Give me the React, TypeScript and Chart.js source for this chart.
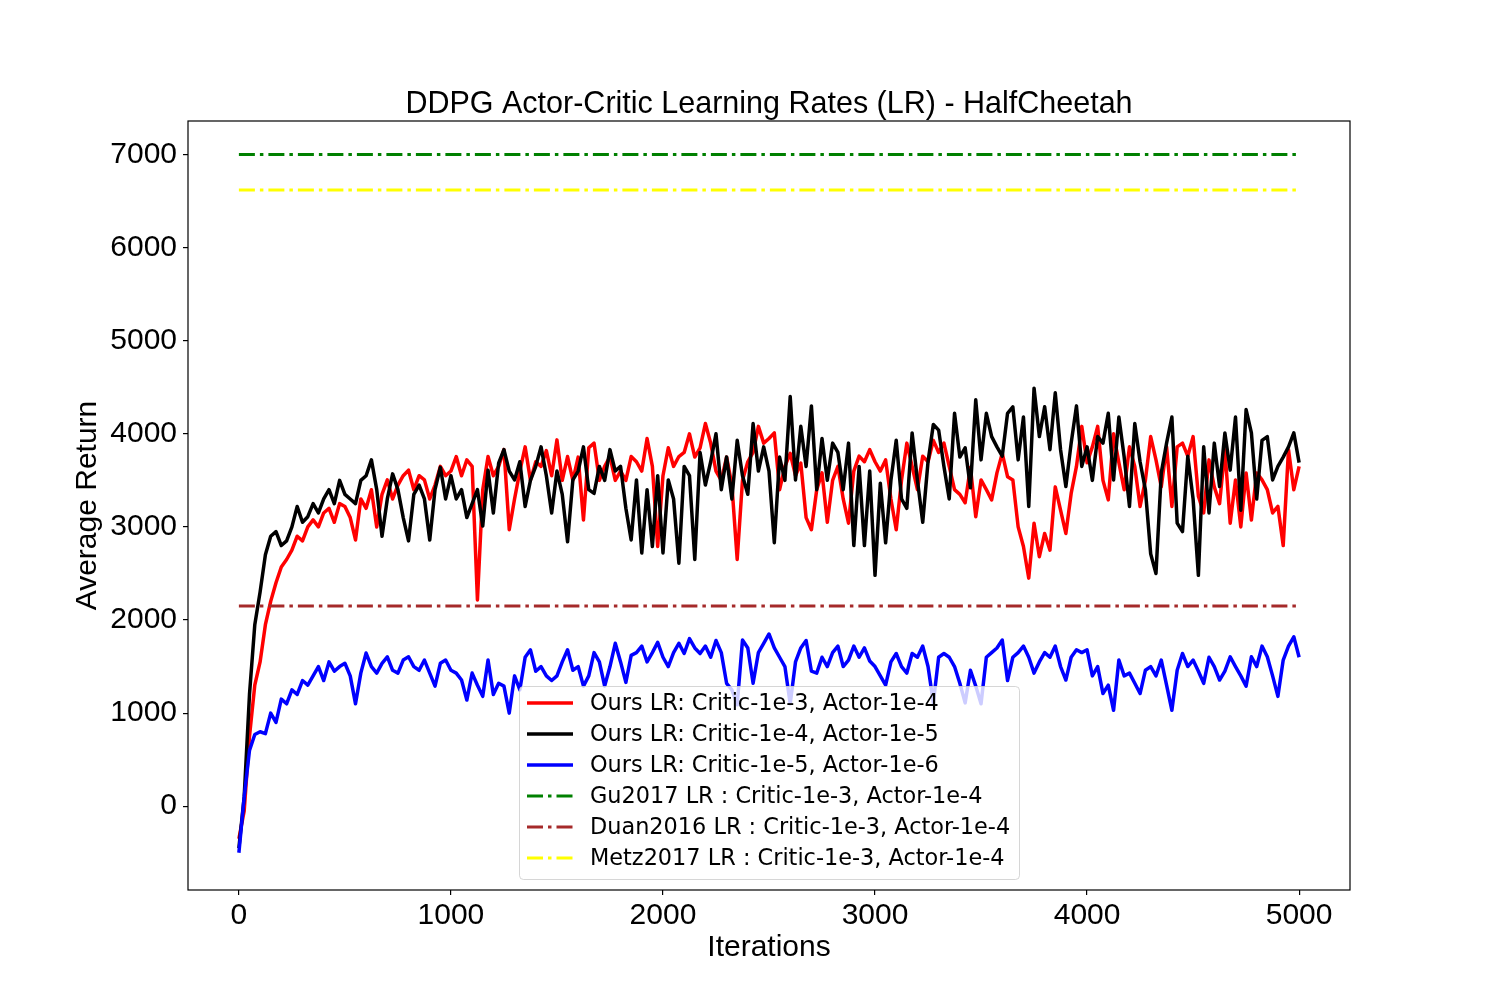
import React, { useEffect, useRef } from "react";
import { Chart, registerables } from "chart.js";

Chart.register(...registerables);

// iteration spacing between samples
const STEP = 25;

const RED = [
  -350, -50, 750, 1300, 1550, 1950, 2200, 2400, 2570, 2650, 2750, 2900, 2850, 3000, 3075, 3000, 3150, 3200, 3050, 3250,
  3220, 3100, 2860, 3300, 3200, 3400, 3000, 3350, 3505, 3300, 3450, 3550, 3610, 3400, 3550, 3505, 3300, 3450, 3650, 3550,
  3600, 3756, 3550, 3720, 3650, 2215, 3400, 3756, 3550, 3650, 3830, 2970, 3300, 3600, 3860, 3500, 3700, 3650, 3820, 3550,
  3935, 3500, 3756, 3500, 3750, 3075, 3850, 3900, 3500, 3650, 3756, 3500, 3600, 3500, 3756, 3700, 3600, 3950, 3650, 2790,
  3550, 3850, 3650, 3756, 3800, 4000, 3750, 3850, 4110, 3900, 3600, 3500, 3750, 3450, 2650, 3500, 3700, 3800, 4080, 3900,
  3950, 4010, 3400, 3650, 3790, 3550, 3685, 3100, 2970, 3400, 3580, 3050, 3500, 3650, 3300, 3040, 3600, 3760, 3700, 3830,
  3700, 3600, 3720, 3300, 2970, 3500, 3900, 3650, 3400, 3760, 3700, 3930, 3800, 3900, 3650, 3400, 3350, 3260, 3640, 3110,
  3505, 3400, 3290, 3580, 3790, 3540, 3505, 3000, 2790, 2450, 3040, 2680, 2930, 2750, 3430, 3180, 2930, 3360, 3650, 4080,
  3690, 3860, 4080, 3500, 3290, 4000, 3690, 3400, 3860, 3650, 3220, 3500, 3970, 3720, 3430, 3860, 3220, 3860, 3900, 3760,
  3970, 3330, 3150, 3720, 3430, 3250, 3830, 3040, 3505, 3000, 3580, 3075, 3580, 3505, 3400, 3150, 3220, 2800, 3830, 3400,
  3650,
];

const BLACK = [
  -450, 100, 1200, 1950, 2300, 2700, 2900, 2950, 2800, 2850, 3000, 3220, 3050, 3110, 3250, 3150, 3300, 3400, 3250, 3500,
  3350, 3300, 3250, 3500, 3550, 3720, 3400, 2900, 3300, 3570, 3400, 3100, 2850, 3350, 3450, 3300, 2860, 3400, 3640, 3300,
  3550, 3300, 3400, 3100, 3250, 3400, 3010, 3610, 3150, 3685, 3830, 3600, 3505, 3700, 3220, 3500, 3650, 3860, 3550, 3150,
  3600, 3350, 2840, 3505, 3600, 3860, 3400, 3360, 3650, 3500, 3830, 3600, 3650, 3200, 2860, 3505, 2720, 3400, 2790, 3550,
  2720, 3505, 3300, 2610, 3650, 3550, 2650, 3800, 3450, 3700, 4000, 3400, 3750, 3300, 3930, 3550, 3350, 4110, 3600, 3860,
  3600, 2830, 3750, 3500, 4400, 3505, 4080, 3650, 4300, 3400, 3950, 3500, 3900, 3800, 3400, 3900, 2800, 3650, 2800, 3600,
  2480, 3470, 2830, 3500, 3930, 3300, 3200, 4010, 3500, 3050, 3700, 4100, 4040, 3650, 3300, 4220, 3750, 3850, 3420, 4365,
  3720, 4220, 3970, 3860, 3760, 4220, 4290, 3720, 4180, 3220, 4490, 3970, 4290, 3830, 4440, 3830, 3435, 3900, 4300, 3650,
  3860, 3500, 3970, 3900, 4220, 3505, 4180, 3750, 3220, 4110, 3700, 3400, 2710, 2500, 3580, 3900, 4180, 3040, 2950, 3760,
  3300, 2480, 3860, 3150, 3900, 3435, 4010, 3610, 4180, 3180, 4260, 4010, 3300, 3930, 3970, 3505, 3650, 3750, 3860, 4010,
  3690,
];

const BLUE = [
  -500, 100, 600, 770, 800, 780, 1000, 900, 1150, 1100, 1250, 1200, 1350, 1300, 1400, 1500, 1350, 1550, 1450, 1500,
  1535, 1400, 1100, 1430, 1645, 1500, 1430, 1535, 1605, 1460, 1430, 1570, 1605, 1500, 1460, 1570, 1430, 1290, 1535, 1570,
  1460, 1430, 1355, 1140, 1430, 1300, 1180, 1570, 1200, 1320, 1290, 1000, 1400, 1250, 1600, 1680, 1450, 1500, 1400, 1350,
  1400, 1550, 1680, 1460, 1500, 1290, 1400, 1650, 1550, 1290, 1500, 1750, 1550, 1330, 1620, 1650, 1720, 1550, 1650, 1760,
  1600, 1500, 1650, 1750, 1640, 1800, 1700, 1640, 1720, 1600, 1780, 1650, 1320, 1250, 1090, 1785, 1700, 1320, 1650, 1750,
  1850, 1700, 1600, 1500, 1100, 1550, 1700, 1780, 1450, 1430, 1600, 1500, 1650, 1720, 1500, 1570, 1720, 1600, 1700, 1560,
  1500, 1400, 1300, 1550, 1640, 1500, 1430, 1640, 1600, 1720, 1500, 1110, 1600, 1640, 1600, 1500, 1320, 1110, 1460, 1290,
  1100, 1600, 1650, 1700, 1785, 1350, 1600, 1650, 1720, 1600, 1430, 1550, 1650, 1600, 1720, 1500, 1355, 1600, 1680, 1650,
  1680, 1400, 1500, 1210, 1300, 1030, 1570, 1400, 1430, 1320, 1210, 1460, 1500, 1400, 1570, 1300, 1030, 1460, 1640, 1500,
  1570, 1450, 1320, 1600, 1500, 1355, 1450, 1605, 1500, 1400, 1290, 1605, 1500, 1720, 1605, 1400, 1180, 1570, 1720, 1820,
  1600,
];

// reference baselines (constant over the run)
const BASE_X = [0, 5000];
const GU2017 = 7000;
const DUAN2016 = 2150;
const METZ2017 = 6620;

const X_TICKS = [0, 1000, 2000, 3000, 4000, 5000];
const Y_TICKS = [0, 1000, 2000, 3000, 4000, 5000, 6000, 7000];

const LABELS = [
  "Ours LR: Critic-1e-3, Actor-1e-4",
  "Ours LR: Critic-1e-4, Actor-1e-5",
  "Ours LR: Critic-1e-5, Actor-1e-6",
  "Gu2017 LR : Critic-1e-3, Actor-1e-4",
  "Duan2016 LR : Critic-1e-3, Actor-1e-4",
  "Metz2017 LR : Critic-1e-3, Actor-1e-4",
];
const COLORS = ["#ff0000", "#000000", "#0000ff", "#008000", "#a52a2a", "#ffff00"];
const DASHDOT = [16, 5, 3.5, 5];

const FONT = "'Liberation Sans', Arial, sans-serif";
const LEGEND_FONT = "'DejaVu Sans', sans-serif";

const toPoints = (vals: number[]) => vals.map((y, i) => ({ x: i * STEP, y }));
const flat = (y: number) => BASE_X.map((x) => ({ x, y }));

const decor = {
  id: "decor",
  afterDraw(chart: Chart) {
    const { ctx, chartArea: a } = chart;
    ctx.save();

    // axes frame
    ctx.strokeStyle = "#000";
    ctx.lineWidth = 1.2;
    ctx.strokeRect(a.left, a.top, a.right - a.left, a.bottom - a.top);

    // titles
    ctx.fillStyle = "#000";
    ctx.font = `30.5px ${FONT}`;
    ctx.textAlign = "center";
    ctx.textBaseline = "alphabetic";
    ctx.fillText("DDPG Actor-Critic Learning Rates (LR) - HalfCheetah", (a.left + a.right) / 2, 113);
    ctx.font = `30px ${FONT}`;
    ctx.fillText("Iterations", (a.left + a.right) / 2, 956);
    ctx.save();
    ctx.translate(96, (a.top + a.bottom) / 2);
    ctx.rotate(-Math.PI / 2);
    ctx.fillText("Average Return", 0, 0);
    ctx.restore();

    // legend
    const lx = 519, ly = 686, lw = 500, lh = 193;
    ctx.beginPath();
    ctx.roundRect(lx + 0.5, ly + 0.5, lw, lh, 4);
    ctx.fillStyle = "rgba(255,255,255,0.8)";
    ctx.fill();
    ctx.strokeStyle = "rgba(204,204,204,0.8)";
    ctx.lineWidth = 1;
    ctx.stroke();

    ctx.font = `22.4px ${LEGEND_FONT}`;
    ctx.textAlign = "left";
    ctx.textBaseline = "middle";
    LABELS.forEach((label, i) => {
      const y = 703 + i * 31;
      ctx.beginPath();
      ctx.strokeStyle = COLORS[i];
      ctx.lineWidth = i < 3 ? 3.5 : 3;
      ctx.setLineDash(i < 3 ? [] : DASHDOT);
      ctx.moveTo(527, y);
      ctx.lineTo(573, y);
      ctx.stroke();
      ctx.setLineDash([]);
      ctx.fillStyle = "#000";
      ctx.fillText(label, 590, y + 1);
    });

    ctx.restore();
  },
};

const App: React.FC = () => {
  const canvasRef = useRef<HTMLCanvasElement>(null);
  const chartRef = useRef<Chart>();

  useEffect(() => {
    document.body.style.margin = "0";
    const ctx = canvasRef.current?.getContext("2d");
    if (!ctx) return;

    const solid = (i: number, vals: number[], order: number) => ({
      label: LABELS[i],
      data: toPoints(vals),
      borderColor: COLORS[i],
      backgroundColor: COLORS[i],
      borderWidth: 3.5,
      pointRadius: 0,
      borderJoinStyle: "round" as const,
      order,
    });
    const dashed = (i: number, y: number, order: number) => ({
      label: LABELS[i],
      data: flat(y),
      borderColor: COLORS[i],
      backgroundColor: COLORS[i],
      borderWidth: 3,
      borderDash: DASHDOT,
      pointRadius: 0,
      order,
    });

    chartRef.current = new Chart(ctx, {
      type: "line",
      data: {
        datasets: [
          solid(0, RED, 6),
          solid(1, BLACK, 5),
          solid(2, BLUE, 4),
          dashed(3, GU2017, 3),
          dashed(4, DUAN2016, 2),
          dashed(5, METZ2017, 1),
        ],
      },
      options: {
        animation: false,
        responsive: false,
        devicePixelRatio: 1,
        layout: { padding: { left: 0, top: 121, right: 150, bottom: 0 } },
        plugins: { legend: { display: false }, tooltip: { enabled: false }, title: { display: false } },
        scales: {
          x: {
            type: "linear",
            min: -240,
            max: 5240,
            afterFit: (s: any) => { s.height = 110; },
            afterBuildTicks: (s: any) => { s.ticks = X_TICKS.map((value) => ({ value })); },
            border: { display: false },
            grid: { drawOnChartArea: false, drawTicks: true, tickLength: 5, color: "#000", lineWidth: 1.2 },
            ticks: {
              color: "#000",
              font: { family: FONT, size: 30 },
              padding: 3,
              maxRotation: 0,
              autoSkip: false,
              callback: (v: any) => String(v),
            },
          },
          y: {
            type: "linear",
            min: -900,
            max: 7360,
            afterFit: (s: any) => { s.width = 188; },
            afterBuildTicks: (s: any) => { s.ticks = Y_TICKS.map((value) => ({ value })); },
            border: { display: false },
            grid: { drawOnChartArea: false, drawTicks: true, tickLength: 5, color: "#000", lineWidth: 1.2 },
            ticks: {
              color: "#000",
              font: { family: FONT, size: 30 },
              padding: 6,
              autoSkip: false,
              callback: (v: any) => String(v),
            },
          },
        },
      },
      plugins: [decor],
    });

    return () => {
      chartRef.current?.destroy();
    };
  }, []);

  return (
    <div style={{ width: 1500, height: 1000, background: "#fff" }}>
      <canvas ref={canvasRef} width={1500} height={1000}></canvas>
    </div>
  );
};

export default App;
